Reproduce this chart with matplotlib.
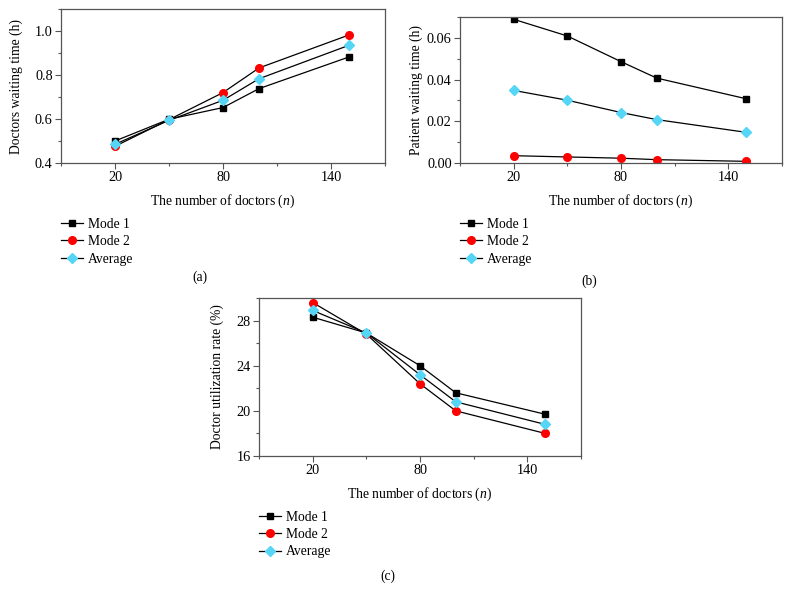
import matplotlib
matplotlib.use("Agg")
import matplotlib.pyplot as plt
from matplotlib.ticker import MultipleLocator, FixedLocator

plt.rcParams['font.family'] = ['Liberation Serif', 'DejaVu Serif']
plt.rcParams['mathtext.fontset'] = 'custom'
plt.rcParams['mathtext.rm'] = 'Liberation Serif'
plt.rcParams['mathtext.it'] = 'Liberation Serif:italic'

n_doctors = [20, 50, 80, 100, 150]

doc_wait_mode1 = [0.500, 0.599, 0.652, 0.738, 0.882]
doc_wait_mode2 = [0.476, 0.597, 0.720, 0.832, 0.982]
doc_wait_avg = [0.485, 0.594, 0.685, 0.783, 0.935]

pat_wait_mode1 = [0.0689, 0.0609, 0.0486, 0.0407, 0.0308]
pat_wait_mode2 = [0.0035, 0.0029, 0.0023, 0.0016, 0.0008]
pat_wait_avg = [0.0348, 0.0301, 0.0242, 0.0208, 0.0147]

util_mode1 = [28.3, 26.9, 24.0, 21.6, 19.7]
util_mode2 = [29.6, 26.8, 22.4, 20.0, 18.0]
util_avg = [28.9, 26.9, 23.2, 20.8, 18.8]

series_labels = ['Mode 1', 'Mode 2', 'Average']
xlabel = 'The number of doctors ($\\it{n}$)'

W, H = 792, 601
fig = plt.figure(figsize=(W / 100, H / 100), dpi=100)

def px_axes(l, t, r, b):
    return fig.add_axes([l / W, 1 - b / H, (r - l) / W, (b - t) / H])

spine_col = '#555555'
BLACK = '#000000'
RED = '#ff0000'
CYAN = '#55d6f7'
FS = 9.8

def draw(ax, ys, ylim, ymaj, ymin, yfmt, ylabel, leg_anchor, ylpad):
    styles = [dict(marker='s', color=BLACK, ms=5),
              dict(marker='o', color=RED, ms=5.5),
              dict(marker='D', color=CYAN, ms=5.5)]
    for y, st, lab in zip(ys, styles, series_labels):
        ax.plot(n_doctors, y, color='black', lw=0.9, marker=st['marker'],
                markersize=st['ms'], markerfacecolor=st['color'],
                markeredgecolor=st['color'], label=lab)
    ax.set_xlim(-10, 170)
    ax.set_ylim(*ylim)
    ax.xaxis.set_major_locator(FixedLocator([20, 80, 140]))
    ax.xaxis.set_minor_locator(FixedLocator([-10, 50, 110, 170]))
    ax.yaxis.set_major_locator(MultipleLocator(ymaj))
    ax.yaxis.set_minor_locator(MultipleLocator(ymin))
    ax.yaxis.set_major_formatter(yfmt)
    ax.tick_params(which='major', direction='out', length=4, width=0.8,
                   color=spine_col, labelsize=FS + 0.5, pad=2)
    ax.tick_params(which='minor', direction='out', length=2.5, width=0.8,
                   color=spine_col)
    ax.tick_params(top=False, right=False, which='both')
    for s in ax.spines.values():
        s.set_color(spine_col)
        s.set_linewidth(0.9)
    ax.set_xlabel(xlabel, fontsize=FS, labelpad=6)
    ax.set_ylabel(ylabel, fontsize=FS, labelpad=ylpad)
    ax.legend(loc='upper left', bbox_to_anchor=leg_anchor, frameon=False,
              fontsize=FS, handlelength=1.6, handletextpad=0.4,
              labelspacing=0.33, borderpad=0, borderaxespad=0)

ax_a = px_axes(61, 9, 385, 163)
draw(ax_a, [doc_wait_mode1, doc_wait_mode2, doc_wait_avg], (0.4, 1.1), 0.2, 0.1,
     '{x:.1f}', 'Doctors waiting time (h)', (0.0, -0.355), 8.5)

ax_b = px_axes(460, 17, 782, 163)
draw(ax_b, [pat_wait_mode1, pat_wait_mode2, pat_wait_avg], (0.0, 0.07), 0.02, 0.01,
     '{x:.2f}', 'Patient waiting time (h)', (0.0, -0.375), 3)

ax_c = px_axes(259, 298, 581, 456)
draw(ax_c, [util_mode1, util_mode2, util_avg], (16, 30), 4, 2,
     '{x:.0f}', 'Doctor utilization rate (%)', (0.0, -0.345), 9)

fig.text(200 / W, 1 - 277 / H, '(a)', ha='center', va='center', fontsize=FS)
fig.text(589 / W, 1 - 281 / H, '(b)', ha='center', va='center', fontsize=FS)
fig.text(388 / W, 1 - 576 / H, '(c)', ha='center', va='center', fontsize=FS)

fig.savefig('out.png', dpi=100)
